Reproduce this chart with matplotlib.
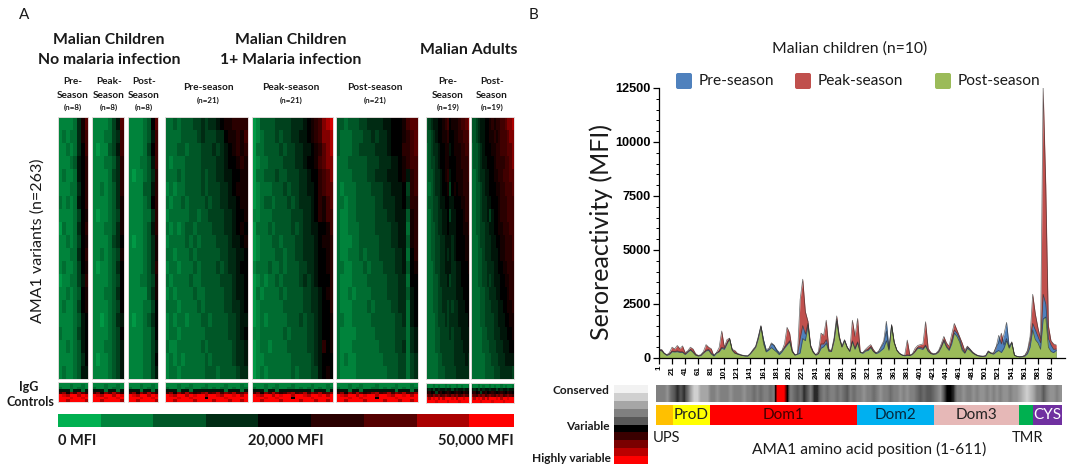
import matplotlib
matplotlib.use("Agg")
import matplotlib.pyplot as plt
from matplotlib.colors import LinearSegmentedColormap
from matplotlib.patches import FancyBboxPatch, Rectangle

W, H = 1073, 466
SANS = "Lato"
TICKFONT = "Liberation Sans"

# --- heatmap levels as base-17 digits, 0 = 0 MFI, 8 = 20,000 MFI, g = 50,000 MFI (top to bottom rows) ---
NO_INF_PRE = [
    "2222369c", "2323369b", "2232368b", "2223478a", "2322378a", "2223368a", "3232378a", "22223589", "1322368a", "22323589",
    "2223368a", "23223589", "1223357a", "22323489", "23223589", "22223478", "32223578", "22323478", "22223468", "23223477",
]
NO_INF_PEAK = [
    "2222357c", "2223356b", "2122457b", "2223346a", "2222356a", "2232346a", "22223469", "21223459", "22233469", "22223568",
    "22323459", "21223468", "22223458", "22233468", "22223458", "22123467", "22223458", "22233457", "21223457", "22223457",
]
NO_INF_POST = [
    "2222348c", "2222347b", "2222358b", "2223347b", "2122346a", "2222447a", "2222348a", "2222336a", "2222347a", "21223469",
    "22223469", "2222346a", "22233459", "22222469", "22223358", "21223468", "22223358", "22223357", "22223358", "22223357",
]
INF_PRE = [
    "33434445565667899aaaa", "333344445655566899a9b", "333443444555656789a9a", "3233344445555667889a9",
    "333434444545566778899", "232334444545556678999", "323343444454556677899", "233333443445555667889",
    "323234434444555667898", "233334343444455567789", "332333434444445566778", "233233343444454566788",
    "323333433444445556778", "232333343344444556778", "333233334344444556678", "232332333443444455677",
    "233233333344444455678", "322333333434444445667", "232323333343444445667", "233233333344434444566",
]
INF_PEAK = [
    "1244445555666789abdef", "1234445455667789abdde", "13344445455667789acde", "12334444555667889bcdd",
    "13344454455566788abcd", "12333444545566778abcc", "12344344454566678a9bc", "22333444445556678a9bb",
    "13334344445456677889b", "12333443444556667899a", "12333344344556667889a", "23334334344455667889a",
    "12323343444456567888a", "13233334344445566789a", "12333333444445566788a", "123233333444545567889",
    "223333334344445567889", "123323333444445567a89", "122333333344444567888", "123233333343444557898",
]
INF_POST = [
    "443444556666778889bcc", "433344455656678889abc", "43334455556667888aabc", "333444445556667789abb",
    "3333444455666777897ab", "3233344445556677785ab", "3323344444556667786aa", "32233444445556677749a",
    "32233344445555667739a", "32223344444555667749a", "32233343444555566738a", "332233343444555667489",
    "322233334444455566388", "322323333444455566478", "322233334344445566378", "332233333444444556378",
    "322223333344444555367", "322233333334444556367", "323223333333444455356", "322223333333344455356",
]
ADULT_PRE = [
    "45677889ab8999abbcd", "445678899a8899aabbc", "345667889978999aabb", "345567889988899aaab",
    "344566789a788999aab", "3345667889589899aaa", "34455677887788899aa", "33455667785778889aa",
    "334456677877788899a", "3344556677767888899", "3344556676767888899", "3334556677766778889",
    "3334456667566778888", "3334455666666777888", "3334455665656677788", "3333455565666677778",
    "3333445555656667777", "3333445555556666777", "3333344555556666676", "3333344455555666666",
]
ADULT_POST = [
    "445677889a9aabbcdde", "4456778899a9abbbcdd", "34456788899aabbbccd", "34456778889aaaabbcd",
    "334566778899aabbbcc", "3344567788899aabbbc", "3344566778889aaabbb", "3344566757889aaabbb",
    "33445566778899aaabb", "333455666778899aaab", "333445666777899aaab", "3334455666778899aaa",
    "33344556567778899aa", "33334455666778889aa", "333344555666778899a", "3333445555667778899",
    "3333344555666777889", "3333344455566677788", "3333334445556667777", "3333334444555666665",
]
CONTROLS = [
    "222222222222222222222", "222322322232222322232", "322323322332323323233", "777377377777777377737",
    "bd9dbecabdebcebdcebcd", "gfeggegfggeggfeggfgeg", "gggfggfggg8ggggfggggg", "ggeggggeggggegggeggeg",
]
CONTROLS_ADULT = [
    "2223222232222322222", "3223232232322323223", "7675767767757677677", "9a8959a89a989a98a98",
    "dcbdcdbcdcbdcdbcdcb", "gegfgegegggfgeggfgg", "ggggfggggfggggfgggg",
]
SCALE_COLORS = ["#00B050", "#00843C", "#005828", "#002C14", "#000000", "#2A0000", "#550000", "#AA0000", "#FF0000"]
SCALE_EDGES = [57.5, 100.7, 153, 206, 258, 311, 364, 416.5, 469, 514]

# --- seroreactivity (MFI) along AMA1, every 4 amino acids from position 1 ---
POSITIONS = list(range(1, 610, 4))
PEAK = [
    400, 400, 230, 150, 250, 500, 420, 580, 430, 560,
    250, 330, 500, 420, 200, 120, 150, 300, 620, 500,
    430, 100, 250, 480, 1250, 500, 850, 920, 400, 350,
    220, 170, 130, 110, 100, 220, 400, 550, 1000, 1500,
    800, 320, 400, 650, 580, 350, 200, 330, 650, 1420,
    1150, 350, 150, 190, 2700, 3650, 2150, 1700, 600, 300,
    150, 300, 1150, 1050, 1750, 400, 350, 950, 1950, 1000,
    550, 850, 520, 330, 1750, 1000, 1830, 280, 250, 400,
    520, 620, 400, 240, 300, 500, 700, 1250, 400, 1550,
    750, 380, 230, 150, 120, 830, 130, 200, 450, 580,
    620, 650, 1680, 450, 260, 200, 220, 350, 650, 1000,
    700, 550, 1100, 1600, 1300, 1000, 700, 350, 550, 420,
    280, 190, 120, 95, 85, 110, 330, 240, 230, 520,
    700, 1150, 600, 900, 500, 750, 140, 80, 60, 70,
    130, 350, 1000, 2950, 2050, 1400, 900, 12500, 8000, 1500,
    800, 650, 600,
]
PRE = [
    380, 360, 220, 140, 200, 320, 300, 330, 290, 290,
    190, 310, 400, 290, 150, 100, 130, 250, 360, 400,
    220, 140, 240, 320, 500, 450, 700, 900, 380, 240,
    190, 150, 120, 100, 95, 210, 360, 520, 950, 1480,
    850, 400, 430, 700, 600, 400, 260, 330, 500, 650,
    800, 300, 140, 180, 900, 1500, 1100, 1600, 550, 280,
    140, 220, 650, 650, 850, 350, 320, 850, 1800, 950,
    520, 820, 500, 310, 800, 450, 750, 270, 240, 360,
    400, 520, 320, 230, 300, 550, 800, 1700, 450, 1530,
    720, 360, 210, 140, 110, 150, 120, 180, 320, 500,
    500, 450, 600, 340, 220, 180, 200, 300, 550, 850,
    550, 400, 800, 1300, 1150, 900, 450, 250, 520, 400,
    250, 170, 110, 90, 80, 100, 310, 230, 210, 500,
    1050, 650, 1100, 1650, 550, 720, 130, 75, 55, 65,
    110, 300, 800, 1600, 1300, 1000, 700, 2950, 2500, 900,
    600, 400, 420,
]
POST = [
    350, 330, 200, 120, 170, 290, 280, 290, 260, 260,
    160, 270, 370, 260, 130, 90, 110, 230, 330, 350,
    180, 90, 220, 290, 450, 400, 650, 880, 350, 220,
    180, 140, 110, 90, 90, 200, 350, 500, 900, 1450,
    650, 280, 370, 480, 380, 280, 150, 280, 450, 600,
    750, 280, 130, 170, 230, 900, 800, 1500, 500, 250,
    130, 200, 450, 520, 680, 300, 300, 800, 1700, 900,
    500, 800, 480, 300, 750, 400, 700, 250, 220, 320,
    350, 480, 300, 200, 250, 350, 450, 800, 350, 1500,
    700, 350, 200, 130, 100, 120, 110, 170, 300, 450,
    430, 400, 550, 300, 200, 170, 190, 280, 500, 780,
    500, 350, 650, 1150, 1000, 750, 350, 220, 450, 350,
    230, 150, 100, 80, 70, 90, 280, 210, 180, 280,
    350, 250, 450, 800, 450, 700, 120, 70, 50, 60,
    90, 200, 500, 1300, 850, 700, 400, 1800, 1900, 500,
    300, 250, 350,
]
Y_TICKS = [0, 2500, 5000, 7500, 10000, 12500]
X_TICKS = list(range(1, 602, 20))

# conservation level (position in CONSERVE_COLORS), 5 amino acids per cell
CONSERVATION = [
    3, 3, 3, 2.5, 3.5, 4, 4.5, 4, 4.5, 3.5, 2, 1, 1, 2, 2, 2,
    3, 3, 2.5, 3, 3, 3, 2.5, 3, 3, 3, 2.5, 3, 3, 3.5, 3, 3.5, 3, 3, 3.5, 3,
    9, 9, 9, 5, 3, 3.5, 4, 3.5, 4.5, 4, 3, 4.5, 4.5, 3.5, 3, 3.5, 3, 3, 3.5, 3, 3.5, 4, 3, 3.5,
    3, 3, 2.5, 3, 3, 3.5, 3, 2.5, 3, 3, 3.5, 3, 3, 2.5, 3, 2.5, 3, 3,
    3.5, 4, 3.5, 4, 4, 3.5, 3, 2.5, 4, 5, 5, 4.5,
    3, 3, 2.5, 3, 3, 2.5, 3, 2.5, 2.5, 3, 2.5, 3, 2.5, 3, 2.5, 2.5, 3, 2.5,
    2.5, 2, 1.5, 1, 1.5, 2, 3, 3, 4, 3, 2.5, 2.5, 3, 2.5,
]
CONSERVE_COLORS = ["#F2F2F2", "#D0D0D0", "#A6A6A6", "#808080", "#595959",
                   "#000000", "#3A0000", "#7A0000", "#BB0000", "#FF0000"]

# AMA1 domains
DOMAIN_NAMES = ["", "ProD", "Dom1", "Dom2", "Dom3", "", "CYS"]
DOMAIN_EDGES = [1, 26, 82, 303, 419, 547, 567, 611]
DOMAIN_COLORS = ["#FFC000", "#FFFF00", "#FF0000", "#00B0F0", "#E6B8B7", "#00B050", "#7030A0"]
DOMAIN_TEXT = ["black", "#222222", "#400000", "#06283D", "#222222", "black", "white"]

fig = plt.figure(figsize=(W / 100, H / 100), dpi=100, facecolor="white")
cmap = LinearSegmentedColormap.from_list("mfi", SCALE_COLORS)


# axes placed by pixel box, y counted from the top
def px_axes(x0, y0, x1, y1, **kw):
    return fig.add_axes([x0 / W, 1 - y1 / H, (x1 - x0) / W, (y1 - y0) / H], **kw)


page = px_axes(0, 0, W, H)
page.set_xlim(0, W)
page.set_ylim(H, 0)
page.axis("off")


def label(x, y, s, size=10, weight="normal", ha="center", **kw):
    page.text(x, y, s, fontsize=size, fontweight=weight, ha=ha, va="center",
              family=SANS, color=kw.pop("color", "#1a1a1a"), **kw)


def levels(rows, n):
    return [[int(c, 17) for c in row[:n]] for row in rows]


def heat(box, data, interp):
    ax = px_axes(*box)
    ax.imshow(data, cmap=cmap, vmin=0, vmax=16, aspect="auto", interpolation=interp)
    ax.set_xticks([])
    ax.set_yticks([])
    for s in ax.spines.values():
        s.set_color("#e4dcdc")
        s.set_linewidth(0.7)


# --- Panel A ---
HEAT_TOP, HEAT_BOTTOM = 117, 379
panels = [
    (57.5, 88, NO_INF_PRE, 382, 402, CONTROLS, 8),
    (92, 124, NO_INF_PEAK, 382, 402, CONTROLS, 8),
    (127.5, 158, NO_INF_POST, 382, 402, CONTROLS, 8),
    (165, 247.5, INF_PRE, 382, 402, CONTROLS, 21),
    (251.5, 332.7, INF_PEAK, 382, 402, CONTROLS, 21),
    (336, 418, INF_POST, 382, 402, CONTROLS, 21),
    (425.6, 469, ADULT_PRE, 383, 403, CONTROLS_ADULT, 19),
    (471, 514, ADULT_POST, 383, 403, CONTROLS_ADULT, 19),
]
for x0, x1, data, c0, c1, ctrl, n in panels:
    heat((x0, HEAT_TOP, x1, HEAT_BOTTOM), levels(data, n), "nearest")
    heat((x0, c0, x1, c1), levels(ctrl, n), "nearest")

for i, c in enumerate(SCALE_COLORS):
    page.add_patch(Rectangle((SCALE_EDGES[i], 414), SCALE_EDGES[i + 1] - SCALE_EDGES[i], 13,
                             facecolor=c, edgecolor="none"))

label(24.5, 15, "A", 11)
label(533, 15, "B", 11)
for x, lines in [(109, [(40, "Malian Children"), (60, "No malaria infection")]),
                 (291, [(40, "Malian Children"), (60, "1+ Malaria infection")]),
                 (469, [(50, "Malian Adults")])]:
    for y, s in lines:
        label(x, y, s, 11.3, "bold")

for x, s, n in [(72.7, "Pre-\nSeason", "(n=8)"), (109, "Peak-\nSeason", "(n=8)"), (143.7, "Post-\nSeason", "(n=8)"),
                (448, "Pre-\nSeason", "(n=19)"), (492, "Post-\nSeason", "(n=19)")]:
    first, second = s.split("\n")
    label(x, 81, first, 7.2, "bold")
    label(x, 95, second, 7.2, "bold")
    label(x, 107, n, 5.8, "bold")
for x, s in [(208, "Pre-season"), (291, "Peak-season"), (375, "Post-season")]:
    label(x, 88, s, 7.3, "bold")
    label(x, 100, "(n=21)", 5.8, "bold")

label(38, 241, "AMA1 variants (n=263)", 11.5, rotation=90)
label(29, 387, "IgG", 9, "bold")
label(30, 402, "Controls", 9, "bold")
label(57.5, 441, "0 MFI", 10.5, "bold", ha="left")
label(285.7, 441, "20,000 MFI", 10.5, "bold")
label(514, 441, "50,000 MFI", 10.5, "bold", ha="right")

# --- Panel B ---
ax = px_axes(659, 88, 1065, 358)
ax.patch.set_alpha(0)
ax.set_xlim(1, 1 + 406 / 0.6533)
ax.set_ylim(0, 12500)
for values, color in [(PEAK, "#C0504D"), (PRE, "#4F81BD"), (POST, "#9BBB59")]:
    ax.fill_between(POSITIONS, values, 0, color=color, linewidth=0)
    ax.plot(POSITIONS, values, color="#2a2a2a", linewidth=0.5, alpha=0.7)
ax.spines["top"].set_visible(False)
ax.spines["right"].set_visible(False)
ax.spines["left"].set_linewidth(0.9)
ax.spines["bottom"].set_linewidth(0.9)
ax.set_yticks(Y_TICKS)
ax.set_yticks(list(range(0, 12501, 500)), minor=True)
ax.set_yticklabels([str(v) for v in Y_TICKS], fontweight="bold", fontsize=9.2, family=TICKFONT)
ax.set_xticks(X_TICKS)
ax.set_xticklabels([str(v) for v in X_TICKS], rotation=90, fontweight="bold", fontsize=5.8, family=TICKFONT)
ax.tick_params(axis="y", which="major", length=4, width=0.9, pad=2)
ax.tick_params(axis="y", which="minor", length=2, width=0.7)
ax.tick_params(axis="x", length=4, width=0.9, pad=1.5)
ax.margins(0)

label(601, 232, "Seroreactivity (MFI)", 18, rotation=90)
label(850, 49, "Malian children (n=10)", 11.3)
for x, s, c in [(676, "Pre-season", "#4F81BD"), (795, "Peak-season", "#C0504D"), (935, "Post-season", "#9BBB59")]:
    page.add_patch(FancyBboxPatch((x + 1, 74), 14, 14, boxstyle="round,pad=1,rounding_size=2",
                                  facecolor=c, edgecolor="none"))
    label(x + 22.5, 81, s, 11.2, ha="left")

strip = px_axes(656, 385, 1062, 402)
strip.imshow([CONSERVATION], cmap=LinearSegmentedColormap.from_list("cons", CONSERVE_COLORS), vmin=0, vmax=9,
             aspect="auto", interpolation="bilinear", extent=(1, 611, 0, 1))
strip.axis("off")

bar = px_axes(656, 405, 1062, 425)
bar.set_xlim(1, 611)
bar.set_ylim(0, 1)
bar.axis("off")
for i, name in enumerate(DOMAIN_NAMES):
    start, end = DOMAIN_EDGES[i], DOMAIN_EDGES[i + 1]
    bar.barh(0.5, end - start, left=start, height=1, color=DOMAIN_COLORS[i], linewidth=0)
    if name:
        bar.text((start + end) / 2, 0.5, name, ha="center", va="center", fontsize=11,
                 family=SANS, color=DOMAIN_TEXT[i])

for i, c in enumerate(CONSERVE_COLORS):
    page.add_patch(Rectangle((614, 385 + i * 7.9), 34, 8, facecolor=c, edgecolor="none"))
label(609, 390, "Conserved", 8.6, "bold", ha="right")
label(610, 427, "Variable", 8.6, "bold", ha="right")
label(611, 459, "Highly variable", 8.6, "bold", ha="right")
label(666, 438, "UPS", 10.5)
label(1027, 438, "TMR", 10.5)
label(869, 449, "AMA1 amino acid position (1-611)", 11.2)

fig.savefig("out.png", dpi=100)
